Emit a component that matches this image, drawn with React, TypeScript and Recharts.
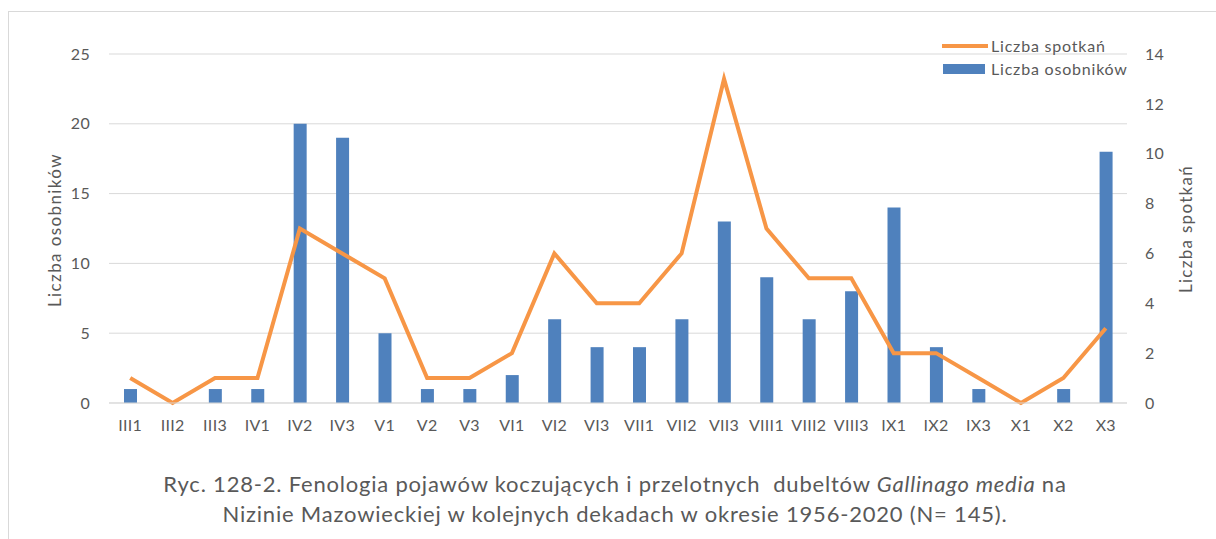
import {
  ComposedChart, Bar, Line, XAxis, YAxis, CartesianGrid,
} from 'recharts';

const decades = [
  'III1', 'III2', 'III3', 'IV1', 'IV2', 'IV3', 'V1', 'V2', 'V3', 'VI1', 'VI2', 'VI3',
  'VII1', 'VII2', 'VII3', 'VIII1', 'VIII2', 'VIII3', 'IX1', 'IX2', 'IX3', 'X1', 'X2', 'X3',
];
const osobniki = [1, 0, 1, 1, 20, 19, 5, 1, 1, 2, 6, 4, 4, 6, 13, 9, 6, 8, 14, 4, 1, 0, 1, 18];
const spotkania = [1, 0, 1, 1, 7, 6, 5, 1, 1, 2, 6, 4, 4, 6, 13, 7, 5, 5, 2, 2, 1, 0, 1, 3];
const leftTicks = [0, 5, 10, 15, 20, 25];
const rightTicks = [0, 2, 4, 6, 8, 10, 12, 14];

const data = decades.map((d, i) => ({ d, osobniki: osobniki[i], spotkania: spotkania[i] }));

const FONT = 'Lato, "Open Sans", sans-serif';
const GREY = '#595959';
const BLUE = '#4f81bd';
const ORANGE = '#f79646';

const tick = { fontSize: 16, fill: GREY, fontFamily: FONT, letterSpacing: 0.3 };

function LegendBox() {
  return (
    <div style={{ position: 'absolute', left: 942, top: 34, fontFamily: FONT, fontSize: 16, letterSpacing: 0.8, color: GREY, lineHeight: '23px' }}>
      <div style={{ display: 'flex', alignItems: 'center' }}>
        <span style={{ display: 'inline-block', width: 46, height: 4, background: ORANGE, marginRight: 3 }} />
        Liczba spotkań
      </div>
      <div style={{ display: 'flex', alignItems: 'center' }}>
        <span style={{ display: 'inline-block', width: 42, height: 10, background: BLUE, marginLeft: 1, marginRight: 6 }} />
        Liczba osobników
      </div>
    </div>
  );
}

export default function App() {
  return (
    <div style={{ position: 'absolute', left: 0, top: 0, width: 1216, height: 539, background: '#fff', overflow: 'hidden' }}>
      <div style={{ position: 'absolute', left: 8, top: 11, width: 1300, height: 600, border: '1px solid #d9d9d9' }} />
      <div style={{ position: 'absolute', left: 0, top: 0 }}>
        <ComposedChart width={1216} height={539} data={data} margin={{ top: 54, right: 0, bottom: 106, left: 0 }}>
          <CartesianGrid vertical={false} stroke="#d9d9d9" yAxisId="left" />
          <XAxis dataKey="d" tick={tick} tickLine={false} tickSize={0} axisLine={{ stroke: '#d9d9d9' }} tickMargin={17} height={30} interval={0} />
          <YAxis yAxisId="left" domain={[0, 25]} ticks={leftTicks} tick={tick} width={109}
            axisLine={false} tickLine={false} tickSize={0} tickMargin={19} />
          <YAxis yAxisId="right" orientation="right" domain={[0, 14]} ticks={rightTicks} tick={tick} width={89}
            axisLine={false} tickLine={false} tickSize={0} tickMargin={18} />
          <Bar yAxisId="left" dataKey="osobniki" name="Liczba osobników" fill={BLUE} barSize={13} isAnimationActive={false} />
          <Line yAxisId="right" type="linear" dataKey="spotkania" name="Liczba spotkań" stroke={ORANGE} strokeWidth={4}
            dot={false} isAnimationActive={false} />
        </ComposedChart>
      </div>
      <LegendBox />
      <div style={{ position: 'absolute', left: 54, top: 230, transform: 'translate(-50%, -50%) rotate(-90deg)', whiteSpace: 'nowrap', fontFamily: FONT, fontSize: 17, letterSpacing: 1.4, color: GREY }}>
        Liczba osobników
      </div>
      <div style={{ position: 'absolute', left: 1185, top: 229, transform: 'translate(-50%, -50%) rotate(-90deg)', whiteSpace: 'nowrap', fontFamily: FONT, fontSize: 17, letterSpacing: 1.3, color: GREY }}>
        Liczba spotkań
      </div>
      <div style={{ position: 'absolute', left: 0, width: 1230, top: 469, textAlign: 'center', fontFamily: FONT, fontSize: 22, letterSpacing: 0.8, color: GREY, lineHeight: '30px', whiteSpace: 'pre' }}>
        {'Ryc. 128-2. Fenologia pojawów koczujących i przelotnych  dubeltów '}<i>Gallinago media</i>{' na'}
        <br />
        {'Nizinie Mazowieckiej w kolejnych dekadach w okresie 1956-2020 (N= 145).'}
      </div>
    </div>
  );
}
